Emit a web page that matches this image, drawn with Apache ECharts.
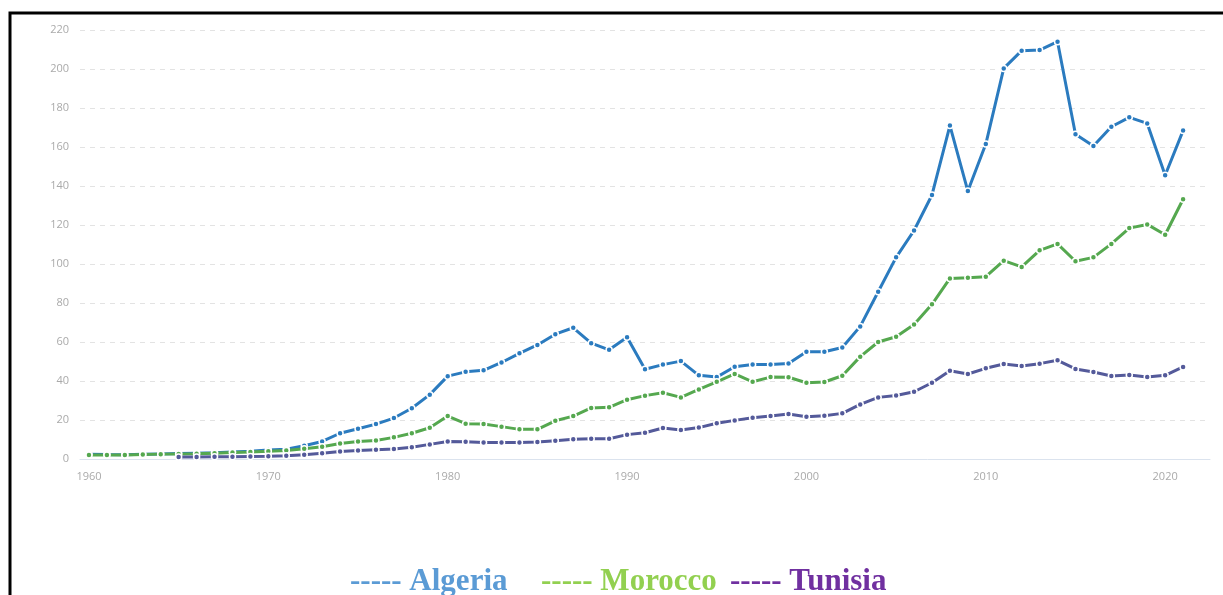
<!DOCTYPE html>
<html>
<head>
<meta charset="utf-8">
<script src="https://cdn.jsdelivr.net/npm/echarts@6/dist/echarts.min.js"></script>
<style>
  html, body { margin: 0; padding: 0; background: #fff; }
  #chart { width: 1223px; height: 595px; }
</style>
</head>
<body>
<div id="chart"></div>
<script>
// years on the x axis (data runs 1960-2021, axis leaves room for 2022)
const years = [
  '1960','1961','1962','1963','1964','1965','1966','1967','1968','1969',
  '1970','1971','1972','1973','1974','1975','1976','1977','1978','1979',
  '1980','1981','1982','1983','1984','1985','1986','1987','1988','1989',
  '1990','1991','1992','1993','1994','1995','1996','1997','1998','1999',
  '2000','2001','2002','2003','2004','2005','2006','2007','2008','2009',
  '2010','2011','2012','2013','2014','2015','2016','2017','2018','2019',
  '2020','2021','2022'
]

const algeria = [
  2.5, 2.3, 2.2, 2.4, 2.6, 2.8, 3.0, 3.2, 3.6, 4.0,
  4.6, 5.0, 6.8, 9.0, 13.2, 15.5, 17.9, 21.0, 26.0, 33.0,
  42.5, 44.7, 45.5, 49.5, 54.2, 58.5, 64.0, 67.3, 59.4, 56.0,
  62.4, 46.0, 48.4, 50.2, 42.9, 42.0, 47.3, 48.5, 48.5, 49.0,
  55.0, 55.0, 57.2, 68.0, 85.8, 103.4, 117.2, 135.4, 171.0, 137.4,
  161.5, 200.3, 209.4, 209.7, 214.0, 166.5, 160.5, 170.4, 175.2, 172.1,
  145.5, 168.4
]

const morocco = [
  2.0, 2.0, 2.1, 2.3, 2.5, 2.6, 2.7, 3.0, 3.3, 3.6,
  4.0, 4.4, 5.2, 6.3, 8.0, 9.0, 9.5, 11.1, 13.2, 16.0,
  22.0, 18.1, 17.9, 16.6, 15.2, 15.2, 19.6, 22.0, 26.2, 26.5,
  30.4, 32.5, 34.0, 31.6, 35.7, 39.6, 43.6, 39.6, 42.0, 41.9,
  39.1, 39.5, 42.7, 52.5, 60.0, 62.7, 69.0, 79.3, 92.6, 93.0,
  93.5, 101.7, 98.5, 107.0, 110.3, 101.4, 103.4, 110.3, 118.4, 120.3,
  115.0, 133.2
]

const tunisia = [
  null, null, null, null, null, 1.0, 1.0, 1.1, 1.2, 1.3,
  1.4, 1.7, 2.2, 2.9, 3.9, 4.3, 4.7, 5.1, 6.0, 7.5,
  9.0, 8.9, 8.4, 8.5, 8.5, 8.7, 9.4, 10.1, 10.4, 10.4,
  12.5, 13.5, 15.9, 14.9, 16.1, 18.3, 19.8, 21.2, 22.0, 23.1,
  21.7, 22.2, 23.4, 28.0, 31.6, 32.6, 34.5, 39.1, 45.3, 43.6,
  46.5, 48.7, 47.7, 48.9, 50.6, 46.2, 44.6, 42.6, 43.1, 42.1,
  42.9, 47.2
]

const names = ['Algeria', 'Morocco', 'Tunisia']
const lineColors = ['#2b7bbf', '#55a84f', '#545a9a']
const legendColors = ['#5b9bd5', '#92d050', '#7030a0']
const legendLeft = [345, 536, 725]

const chart = echarts.init(document.getElementById('chart'))

function makeSeries(name, data, color) {
  return {
    name: name,
    type: 'line',
    data: data,
    symbol: 'circle',
    symbolSize: 6,
    showSymbol: true,
    connectNulls: false,
    lineStyle: { color: color, width: 3 },
    itemStyle: { color: color, borderColor: '#fff', borderWidth: 1.5 },
    emphasis: { disabled: true }
  }
}

const every10 = (idx, val) => Number(val) % 10 === 0

chart.setOption({
  animation: false,
  backgroundColor: '#fff',
  grid: { left: 80, right: 13, top: 30, bottom: 136, containLabel: false },
  legend: names.map((n, i) => ({
    data: [{ name: n, textStyle: { color: legendColors[i] } }],
    left: legendLeft[i],
    top: 566,
    padding: 0,
    icon: 'none',
    itemWidth: 0,
    itemHeight: 30,
    selectedMode: false,
    formatter: name => '----- ' + name,
    textStyle: {
      fontFamily: 'Liberation Serif',
      fontWeight: 'bold',
      fontSize: 31
    }
  })),
  xAxis: {
    type: 'category',
    data: years,
    boundaryGap: true,
    axisLine: { lineStyle: { color: '#dbe3ee', width: 1 } },
    axisTick: { interval: every10, alignWithLabel: true, length: 3, lineStyle: { color: '#cccccc' } },
    axisLabel: {
      interval: every10,
      color: '#aaaaaa',
      fontSize: 11,
      fontFamily: 'Open Sans',
      margin: 12
    },
    splitLine: { show: false }
  },
  yAxis: {
    type: 'value',
    min: 0,
    max: 220,
    interval: 20,
    axisLine: { show: false },
    axisTick: { show: false },
    axisLabel: { color: '#aaaaaa', fontSize: 11, fontFamily: 'Open Sans', margin: 11 },
    splitLine: { lineStyle: { color: '#e3e3e3', type: [5, 5], width: 1 } }
  },
  series: [
    makeSeries(names[0], algeria, lineColors[0]),
    makeSeries(names[1], morocco, lineColors[1]),
    makeSeries(names[2], tunisia, lineColors[2])
  ],
  // frame lines on the left and top of the picture
  graphic: [{
    type: 'polyline',
    silent: true,
    shape: { points: [[10, 595], [10, 13], [1223, 13]] },
    style: { stroke: '#000', lineWidth: 3, fill: null }
  }]
})
</script>
</body>
</html>
